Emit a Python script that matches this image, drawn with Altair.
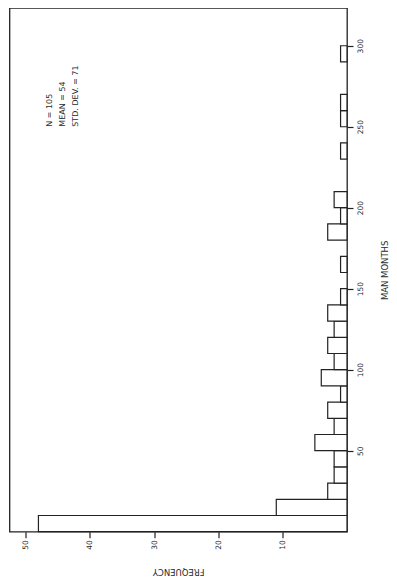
import altair as alt
import pandas as pd

# ---- data ----
bin_start = [0, 10, 20, 30, 40, 50, 60, 70, 80, 90, 100, 110, 120, 130, 140,
             150, 160, 170, 180, 190, 200, 210, 220, 230, 240, 250, 260, 270, 280, 290]
freq = [48, 11, 3, 2, 2, 5, 2, 3, 1, 4, 2, 3, 2, 3, 1,
        0, 1, 0, 3, 1, 2, 0, 0, 1, 0, 1, 1, 0, 0, 1]
bin_width = 10
man_month_ticks = [50, 100, 150, 200, 250, 300]
freq_ticks = [10, 20, 30, 40, 50]
stats_lines = ["N = 105", "MEAN = 54", "STD. DEV. = 71"]
stats_freq = [46.2, 44.2, 42.1]
stats_month = [250, 250, 250]

df = pd.DataFrame({
    "lo": bin_start,
    "hi": [b + bin_width for b in bin_start],
    "freq": freq,
})
df["zero"] = 0
df = df[df["freq"] > 0]

stats = pd.DataFrame({"text": stats_lines, "f": stats_freq, "m": stats_month})

W, H = 337.5, 523.7
FONT = "DejaVu Sans"
INK = "#222222"
TXT = "#2a2a2a"

x_scale = alt.Scale(domain=[0, 52.5], reverse=True, nice=False, zero=True)
y_scale = alt.Scale(domain=[0, 323.3], nice=False, zero=True)

x_axis = alt.Axis(
    orient="bottom", values=freq_ticks, format="d", grid=False, domain=False,
    tickSize=6, tickWidth=1.2, tickColor=INK,
    labelAngle=270, labelAlign="right", labelBaseline="middle", labelPadding=2,
    labelFont=FONT, labelFontSize=7.5, labelColor=TXT,
    title="FREQUENCY", titleAngle=180, titleX=W / 2, titleY=40,
    titleAlign="center", titleBaseline="middle",
    titleFont=FONT, titleFontSize=8.5, titleFontWeight="normal", titleColor=TXT,
)
y_axis = alt.Axis(
    orient="right", values=man_month_ticks, format="d", grid=False, domain=False,
    tickSize=6, tickWidth=1.2, tickColor=INK,
    labelAngle=270, labelAlign="center", labelBaseline="top", labelPadding=4,
    labelFont=FONT, labelFontSize=7.5, labelColor=TXT,
    title="MAN MONTHS", titleAngle=270, titleX=38, titleY=H / 2,
    titleAlign="center", titleBaseline="middle",
    titleFont=FONT, titleFontSize=8.5, titleFontWeight="normal", titleColor=TXT,
)

bars = alt.Chart(df).mark_rect(fill="white", stroke=INK, strokeWidth=1.2).encode(
    x=alt.X("freq:Q", scale=x_scale, axis=x_axis),
    x2="zero:Q",
    y=alt.Y("lo:Q", scale=y_scale, axis=y_axis),
    y2="hi:Q",
)

text = alt.Chart(stats).mark_text(
    angle=270, align="left", baseline="middle", font=FONT, fontSize=8, color=TXT
).encode(
    x=alt.X("f:Q", scale=x_scale),
    y=alt.Y("m:Q", scale=y_scale),
    text="text:N",
)

chart = alt.layer(bars, text).properties(
    width=W, height=H,
    background="white",
    padding={"left": 1.5, "top": 0, "right": 42, "bottom": 46},
    autosize=alt.AutoSizeParams(type="none"),
).configure_view(stroke=INK, strokeWidth=1.3)

chart.save("out.html", embed_options={"renderer": "svg", "actions": False})
